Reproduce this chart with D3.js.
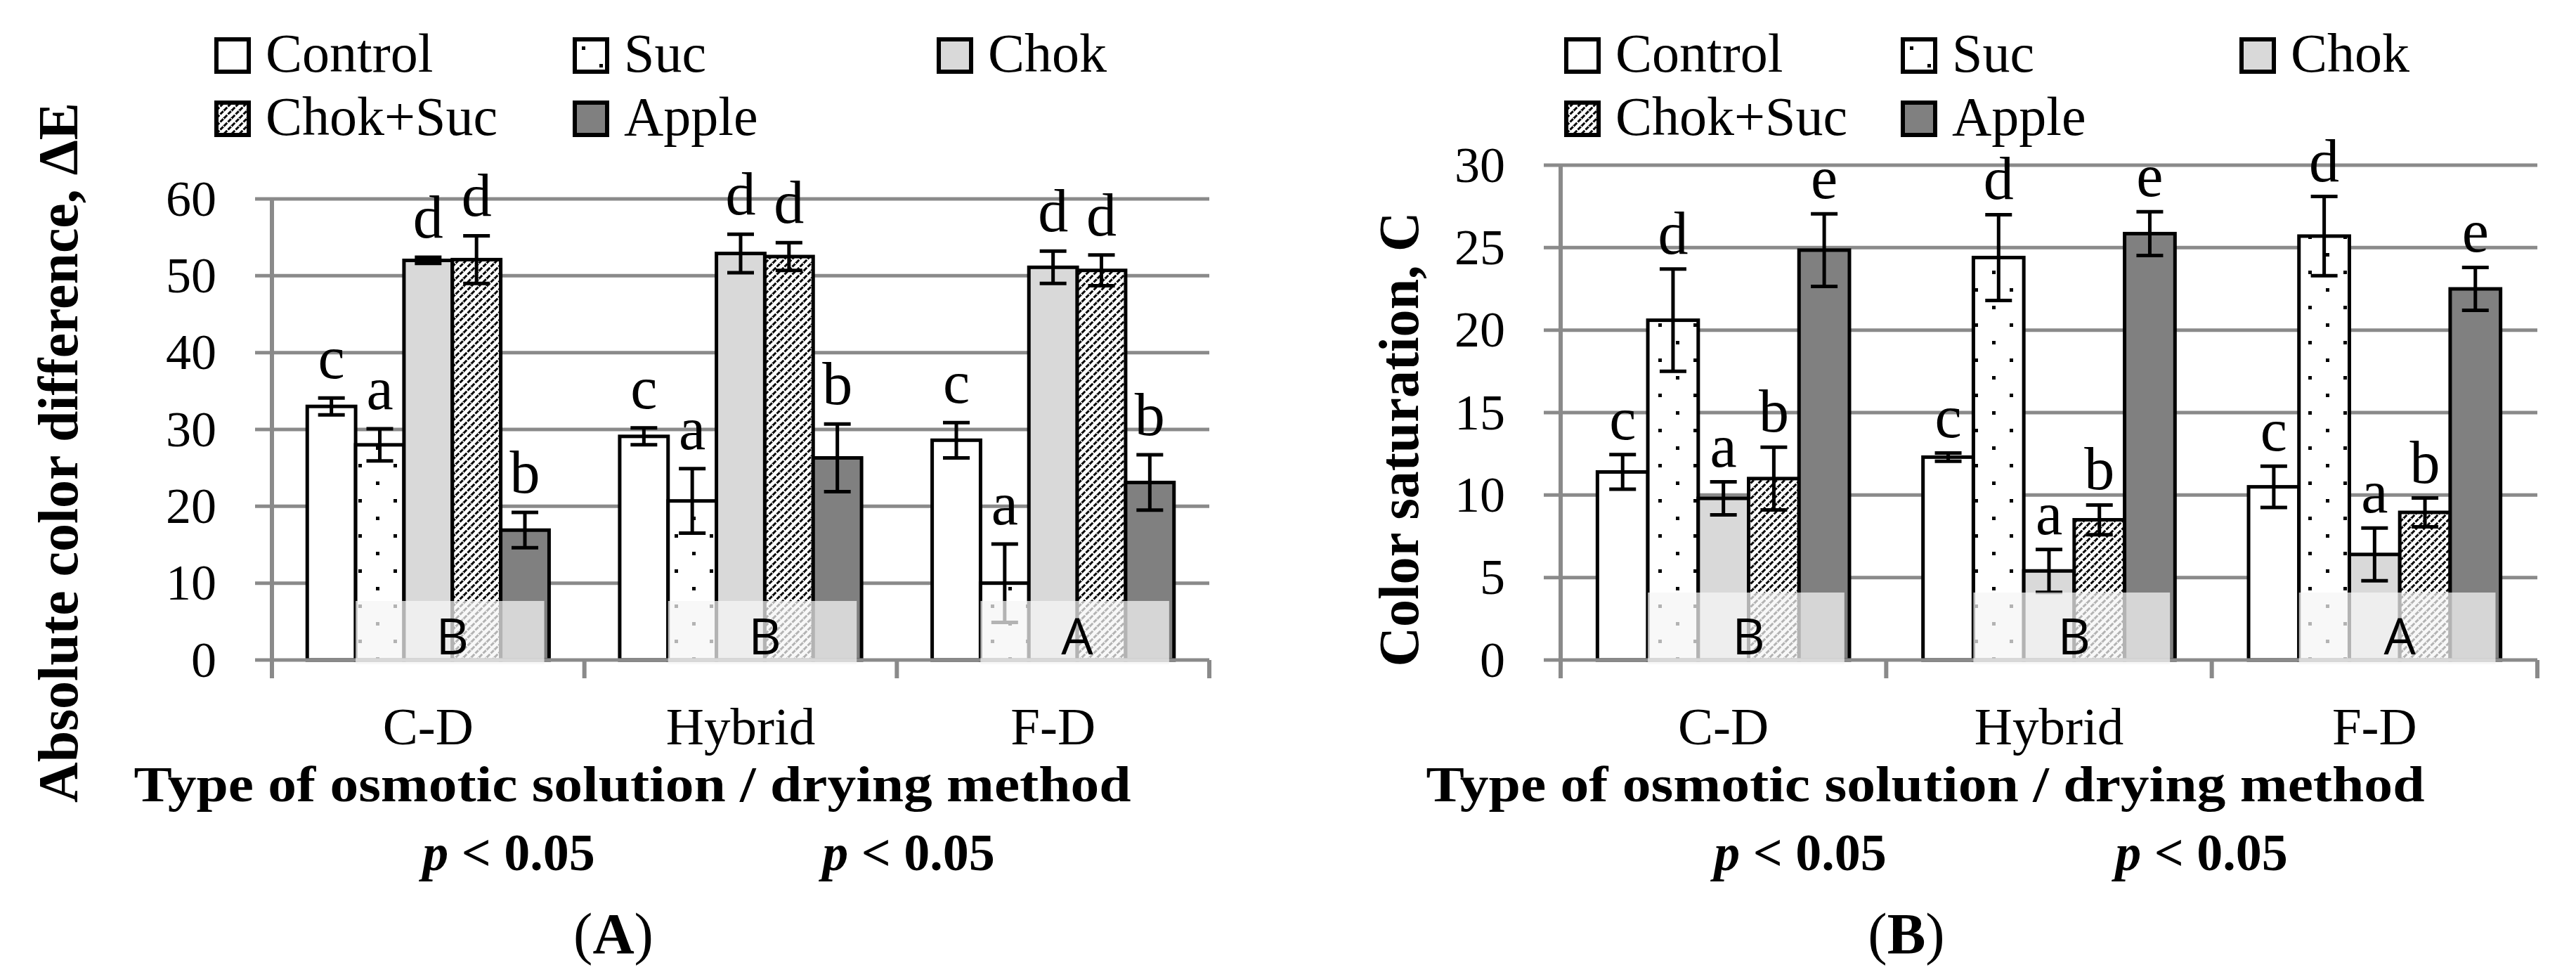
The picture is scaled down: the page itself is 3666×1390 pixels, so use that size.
<!DOCTYPE html>
<html>
<head>
<meta charset="utf-8">
<script src="https://cdn.jsdelivr.net/npm/d3@7"></script>
<style>
  body { margin: 0; background: #fff; }
  svg text { font-family: "Liberation Serif", "DejaVu Serif", serif; fill: #000; }
</style>
</head>
<body>
<script>
let width = 3666;
let height = 1390;

let categories = ["C-D", "Hybrid", "F-D"];
let series = ["Control", "Suc", "Chok", "Chok+Suc", "Apple"];

// panel A, absolute color difference (rows: C-D, Hybrid, F-D)
let deltaE = [
    [33.0, 28.0, 52.0, 52.1, 16.9],
    [29.1, 20.7, 52.9, 52.5, 26.3],
    [28.6, 10.0, 51.1, 50.7, 23.1]
];
let deltaEErr = [
    [1.1, 2.1, 0.4, 3.1, 2.3],
    [1.1, 4.2, 2.5, 1.8, 4.4],
    [2.3, 5.1, 2.1, 2.0, 3.6]
];
let deltaELetters = ["c", "a", "d", "d", "b"];
let deltaETicks = [0, 10, 20, 30, 40, 50, 60];

// panel B, color saturation
let chroma = [
    [11.4, 20.6, 9.8, 11.0, 24.85],
    [12.3, 24.4, 5.4, 8.5, 25.85],
    [10.5, 25.7, 6.4, 8.95, 22.5]
];
let chromaErr = [
    [1.05, 3.1, 1.0, 1.9, 2.2],
    [0.25, 2.6, 1.3, 0.9, 1.33],
    [1.25, 2.4, 1.6, 0.87, 1.3]
];
let chromaLetters = ["c", "d", "a", "b", "e"];
let chromaTicks = [0, 5, 10, 15, 20, 25, 30];

// drying method letters shown in the pale boxes
let methodLetters = ["B", "B", "A"];

let fills = ["#ffffff", "url(#dots)", "#d9d9d9", "url(#diag)", "#808080"];
let gridColor = "#8a8a8a";
let y0 = 939;

//svg canvas

let svg = d3.select("body")
    .append("svg")
    .attr("width", width)
    .attr("height", height);

//patterns

let defs = svg.append("defs");

let dots = defs.append("pattern")
    .attr("id", "dots")
    .attr("patternUnits", "userSpaceOnUse")
    .attr("width", 50)
    .attr("height", 50);
dots.append("rect").attr("width", 50).attr("height", 50).attr("fill", "#fff");
dots.append("rect").attr("x", 10).attr("y", 10).attr("width", 5).attr("height", 5).attr("fill", "#000");
dots.append("rect").attr("x", 35).attr("y", 35).attr("width", 5).attr("height", 5).attr("fill", "#000");

let diag = defs.append("pattern")
    .attr("id", "diag")
    .attr("patternUnits", "userSpaceOnUse")
    .attr("width", 11)
    .attr("height", 11);
diag.append("rect").attr("width", 11).attr("height", 11).attr("fill", "#fff");
diag.append("path")
    .attr("d", "M0,11 L11,0 M-2,2 L2,-2 M9,13 L13,9")
    .attr("stroke", "#000")
    .attr("stroke-width", 3)
    .attr("stroke-dasharray", "6,1.78");

//panels

let panels = [
    {
        left: 387, right: 1721, top: 283, yMax: 60,
        ticks: deltaETicks, values: deltaE, errors: deltaEErr, letters: deltaELetters,
        letterGap: 28, boxH: 84,
        legendX: [308, 818, 1336],
        yLabel: "Absolute color difference, \u0394E", yLabelX: 110, yLabelY: 644, yLabelLen: 996,
        titleX: 900, titleLen: 1419, pX: [724, 1293], tag: "A", tagX: 873
    },
    {
        left: 2221, right: 3611, top: 235, yMax: 30,
        ticks: chromaTicks, values: chroma, errors: chromaErr, letters: chromaLetters,
        letterGap: 22, boxH: 96,
        legendX: [2229, 2708, 3190],
        yLabel: "Color saturation, C", yLabelX: 2018, yLabelY: 625, yLabelLen: 647,
        titleX: 2740, titleLen: 1421, pX: [2562, 3133], tag: "B", tagX: 2713
    }
];

panels.forEach(drawPanel);

function drawPanel(p) {
    let g = svg.append("g");

    let yScale = d3.scaleLinear()
        .domain([0, p.yMax])
        .range([y0, p.top]);

    let xScale = d3.scaleBand()
        .domain(categories)
        .range([p.left, p.right]);

    let xInner = d3.scaleBand()
        .domain(series)
        .range([0, xScale.bandwidth()])
        .paddingOuter(0.73);

    //gridlines

    g.selectAll(".grid")
        .data(p.ticks.filter(function(t) { return t > 0; }))
        .enter()
        .append("line")
        .attr("x1", p.left - 24)
        .attr("x2", p.right)
        .attr("y1", function(d) { return yScale(d); })
        .attr("y2", function(d) { return yScale(d); })
        .attr("stroke", gridColor)
        .attr("stroke-width", 5);

    //y axis labels

    let yAxis = g.append("g")
        .attr("transform", "translate(" + p.left + ",0)")
        .call(d3.axisLeft(yScale).tickValues(p.ticks).tickSize(0).tickPadding(79));
    yAxis.select(".domain").remove();
    yAxis.selectAll("text").attr("font-size", 72);

    //bars

    let rows = p.values.map(function(row, i) {
        return row.map(function(v, j) {
            return { cat: categories[i], s: series[j], j: j, v: v, e: p.errors[i][j], l: p.letters[j] };
        });
    });
    let flat = rows.flat();

    g.selectAll(".bar")
        .data(flat)
        .enter()
        .append("rect")
        .attr("x", function(d) { return xScale(d.cat) + xInner(d.s); })
        .attr("y", function(d) { return yScale(d.v); })
        .attr("width", xInner.bandwidth())
        .attr("height", function(d) { return y0 - yScale(d.v); })
        .attr("fill", function(d) { return fills[d.j]; })
        .attr("stroke", "#000")
        .attr("stroke-width", 5);

    //error bars

    let cx = function(d) { return xScale(d.cat) + xInner(d.s) + xInner.bandwidth() / 2; };

    g.selectAll(".err")
        .data(flat)
        .enter()
        .append("path")
        .attr("d", function(d) {
            let x = cx(d), hi = yScale(d.v + d.e), lo = yScale(d.v - d.e);
            return "M" + x + "," + hi + "V" + lo +
                "M" + (x - 19) + "," + hi + "H" + (x + 19) +
                "M" + (x - 19) + "," + lo + "H" + (x + 19);
        })
        .attr("fill", "none")
        .attr("stroke", "#000")
        .attr("stroke-width", 5);

    //letters

    g.selectAll(".letter")
        .data(flat)
        .enter()
        .append("text")
        .text(function(d) { return d.l; })
        .attr("x", cx)
        .attr("y", function(d) { return yScale(d.v + d.e) - p.letterGap; })
        .attr("font-size", 86)
        .attr("text-anchor", "middle");

    //axis lines

    g.append("line")
        .attr("x1", p.left - 24).attr("x2", p.right)
        .attr("y1", y0).attr("y2", y0)
        .attr("stroke", gridColor).attr("stroke-width", 5);

    g.append("line")
        .attr("x1", p.left).attr("x2", p.left)
        .attr("y1", yScale(p.yMax)).attr("y2", y0 + 26)
        .attr("stroke", gridColor).attr("stroke-width", 6);

    g.selectAll(".ctick")
        .data(categories)
        .enter()
        .append("line")
        .attr("x1", function(d) { return xScale(d) + xScale.bandwidth(); })
        .attr("x2", function(d) { return xScale(d) + xScale.bandwidth(); })
        .attr("y1", y0)
        .attr("y2", y0 + 26)
        .attr("stroke", gridColor)
        .attr("stroke-width", 6);

    //pale method boxes

    g.selectAll(".mbox")
        .data(categories)
        .enter()
        .append("rect")
        .attr("x", function(d) { return xScale(d) + xInner("Suc"); })
        .attr("y", y0 - p.boxH)
        .attr("width", xInner("Apple") + xInner.bandwidth() * 0.9 - xInner("Suc"))
        .attr("height", p.boxH + 6)
        .attr("fill", "#f5f5f5")
        .attr("opacity", 0.73);

    g.selectAll(".mletter")
        .data(categories)
        .enter()
        .append("text")
        .text(function(d, i) { return methodLetters[i]; })
        .attr("x", function(d) { return xScale(d) + xInner("Chok+Suc"); })
        .attr("y", y0 - 8)
        .attr("text-anchor", "middle")
        .attr("font-size", 72)
        .style("font-family", "'Open Sans', sans-serif");

    //category labels

    let xAxis = g.append("g")
        .attr("transform", "translate(0," + y0 + ")")
        .call(d3.axisBottom(xScale).tickSize(0).tickPadding(67));
    xAxis.select(".domain").remove();
    xAxis.selectAll("text").attr("font-size", 75);

    //legend

    let leg = g.selectAll(".leg")
        .data(series)
        .enter()
        .append("g")
        .attr("transform", function(d, j) {
            return "translate(" + p.legendX[j % 3] + "," + (56 + Math.floor(j / 3) * 90) + ")";
        });
    leg.append("rect")
        .attr("width", 46).attr("height", 46)
        .attr("fill", function(d, j) { return fills[j]; })
        .attr("stroke", "#000").attr("stroke-width", 6);
    leg.append("text")
        .text(function(d) { return d; })
        .attr("x", 70)
        .attr("y", 46)
        .attr("font-size", 78);

    //titles

    g.append("text")
        .text(p.yLabel)
        .attr("transform", "translate(" + p.yLabelX + "," + p.yLabelY + ") rotate(-90)")
        .attr("text-anchor", "middle")
        .attr("font-size", 80)
        .attr("font-weight", "bold")
        .attr("textLength", p.yLabelLen)
        .attr("lengthAdjust", "spacingAndGlyphs");

    g.append("text")
        .text("Type of osmotic solution / drying method")
        .attr("x", p.titleX)
        .attr("y", 1140)
        .attr("text-anchor", "middle")
        .attr("font-size", 72)
        .attr("font-weight", "bold")
        .attr("textLength", p.titleLen)
        .attr("lengthAdjust", "spacingAndGlyphs");

    p.pX.forEach(function(x) {
        let t = g.append("text")
            .attr("x", x)
            .attr("y", 1238)
            .attr("text-anchor", "middle")
            .attr("font-size", 74)
            .attr("font-weight", "bold");
        t.append("tspan").attr("font-style", "italic").text("p");
        t.append("tspan").text(" < 0.05");
    });

    let tag = g.append("text")
        .attr("x", p.tagX)
        .attr("y", 1356)
        .attr("text-anchor", "middle")
        .attr("font-size", 82);
    tag.append("tspan").text("(");
    tag.append("tspan").attr("font-weight", "bold").text(p.tag);
    tag.append("tspan").text(")");
}
</script>
</body>
</html>
